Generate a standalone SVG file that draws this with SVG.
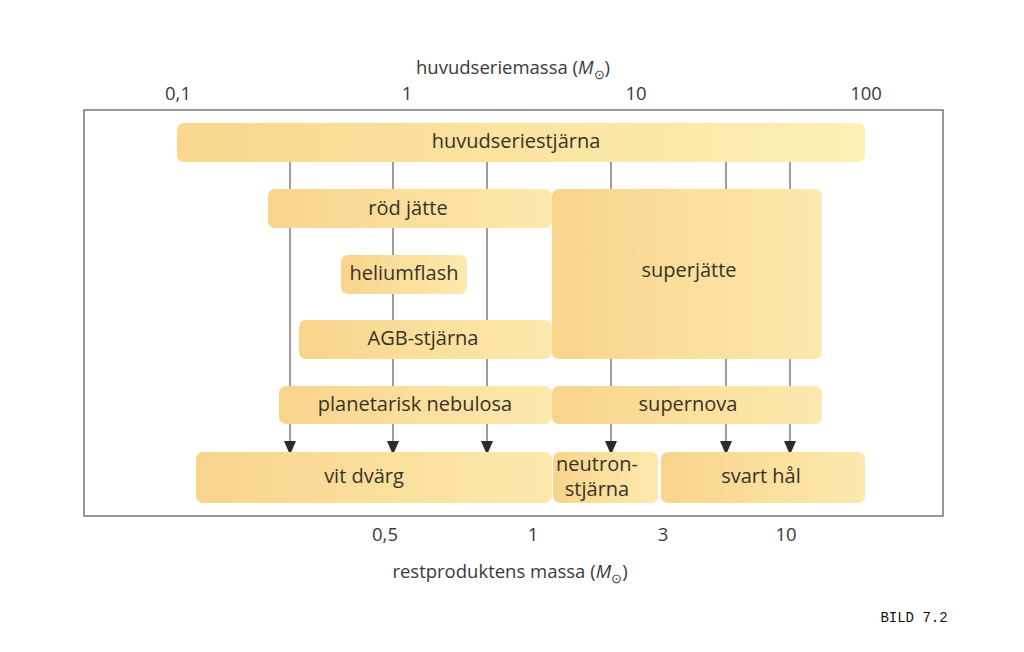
<svg xmlns="http://www.w3.org/2000/svg" width="1024" height="652" viewBox="0 0 1024 652">
<defs>
<linearGradient id="g" x1="0" y1="0" x2="1" y2="0">
<stop offset="0" stop-color="#f8d48c"/>
<stop offset="1" stop-color="#fde9ad"/>
</linearGradient>
<linearGradient id="g2" x1="0" y1="0" x2="1" y2="0">
<stop offset="0" stop-color="#f9d78e"/>
<stop offset="1" stop-color="#fdf0b4"/>
</linearGradient>
<marker id="arr" viewBox="0 0 14 12" refX="14" refY="6" markerWidth="14" markerHeight="12" markerUnits="userSpaceOnUse" orient="auto">
<path d="M0,0 L14,6 L0,12 Z" fill="#2b2b2b"/>
</marker>
</defs>
<style>
.t{font-family:"Open Sans","Noto Sans","Liberation Sans",sans-serif;font-size:20px;fill:#3a3226;text-anchor:middle}
.ax{font-family:"Open Sans","Noto Sans","Liberation Sans",sans-serif;font-size:18.5px;fill:#3a3a3a;text-anchor:middle}
.box{fill:url(#g)}
.ln{stroke:#6a6a6a;stroke-width:1.3;fill:none}
</style>
<rect width="1024" height="652" fill="#ffffff"/>
<rect x="84" y="110" width="859" height="406" fill="none" stroke="#777" stroke-width="1.5"/>
<g id="axes">
<text class="ax" x="513" y="74">huvudseriemassa (<tspan font-style="italic">M</tspan><tspan font-size="13" dy="5">⊙</tspan><tspan dy="-5">)</tspan></text>
<text class="ax" x="178" y="100">0,1</text>
<text class="ax" x="407" y="100">1</text>
<text class="ax" x="636" y="100">10</text>
<text class="ax" x="866" y="100">100</text>
<text class="ax" x="385" y="541">0,5</text>
<text class="ax" x="533" y="541">1</text>
<text class="ax" x="663" y="541">3</text>
<text class="ax" x="786" y="541">10</text>
<text class="ax" x="510" y="578">restproduktens massa (<tspan font-style="italic">M</tspan><tspan font-size="13" dy="5">⊙</tspan><tspan dy="-5">)</tspan></text>
</g>
<g id="connectors">
<line class="ln" x1="290" y1="162" x2="290" y2="455" marker-end="url(#arr)"/>
<line class="ln" x1="393" y1="162" x2="393" y2="455" marker-end="url(#arr)"/>
<line class="ln" x1="487" y1="162" x2="487" y2="455" marker-end="url(#arr)"/>
<line class="ln" x1="611" y1="162" x2="611" y2="455" marker-end="url(#arr)"/>
<line class="ln" x1="726" y1="162" x2="726" y2="455" marker-end="url(#arr)"/>
<line class="ln" x1="790" y1="162" x2="790" y2="455" marker-end="url(#arr)"/>
</g>
<g id="huvudseriestjarna"><rect x="177" y="123" width="688" height="39" rx="7" fill="url(#g2)"/><text class="t" x="516" y="148">huvudseriestjärna</text></g>
<g id="rod-jatte"><rect class="box" x="268" y="189" width="284" height="39" rx="7"/><text class="t" x="408" y="215">röd jätte</text></g>
<g id="heliumflash"><rect class="box" x="341" y="255" width="126" height="39" rx="7"/><text class="t" x="404" y="280">heliumflash</text></g>
<g id="agb-stjarna"><rect class="box" x="299" y="320" width="253" height="39" rx="7"/><text class="t" x="423" y="345">AGB-stjärna</text></g>
<g id="superjatte"><rect class="box" x="552" y="189" width="270" height="170" rx="7"/><text class="t" x="689" y="277">superjätte</text></g>
<g id="planetarisk-nebulosa"><rect class="box" x="279" y="386" width="273" height="38" rx="7"/><text class="t" x="415" y="411">planetarisk nebulosa</text></g>
<g id="supernova"><rect class="box" x="552" y="386" width="270" height="38" rx="7"/><text class="t" x="688" y="411">supernova</text></g>
<g id="vit-dvarg"><rect class="box" x="196" y="452" width="356" height="51" rx="7"/><text class="t" x="364" y="483">vit dvärg</text></g>
<g id="neutronstjarna"><rect class="box" x="553" y="452" width="105" height="51" rx="7"/><text class="t" x="597" y="471" font-size="17.5">neutron-</text><text class="t" x="597" y="496" font-size="17.5">stjärna</text></g>
<g id="svart-hal"><rect class="box" x="661" y="452" width="204" height="51" rx="7"/><text class="t" x="761" y="483">svart hål</text></g>
<text x="914" y="622" font-family="Liberation Mono, monospace" font-size="14" fill="#111" text-anchor="middle">BILD 7.2</text>
</svg>
